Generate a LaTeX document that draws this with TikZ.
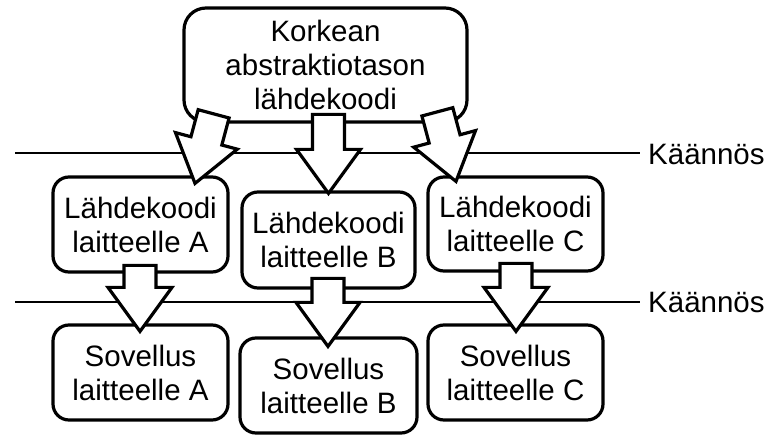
\documentclass[tikz,border=0pt]{standalone}
\usepackage{fontspec}
\setmainfont{Liberation Sans}
\usetikzlibrary{calc}
\begin{document}
\begin{tikzpicture}[x=1pt,y=1pt,
  box/.style={draw=black, line width=3.2pt, rounded corners=16pt, fill=white, align=center,
    inner sep=0pt, font=\fontsize{29.5}{34}\selectfont},
  sep/.style={draw=black, line width=1.4pt},
  lbl/.style={anchor=west, inner sep=0pt, font=\fontsize{29.5}{34}\selectfont},
  blockarrow/.style={draw=black, fill=white, line width=3.2pt, line join=miter}]
\useasboundingbox (0,0) rectangle (772,-435);
% separator lines
\coordinate (l1s) at (15,-153);
\coordinate (l1e) at (640,-153);
\coordinate (l2s) at (15,-302);
\coordinate (l2e) at (640,-302);
\draw[sep] (l1s) -- (l1e);
\draw[sep] (l2s) -- (l2e);
\node[lbl] (k1) at (648,-155) {Käännös};
\node[lbl] (k2) at (648,-302) {Käännös};
% boxes
\node[box, minimum width=283pt, minimum height=114pt, rounded corners=22pt] (top) at (325.5,-65) {Korkean\\abstraktiotason\\lähdekoodi};
\node[box, minimum width=175pt, minimum height=95pt] (a1) at (140.5,-224.5) {Lähdekoodi\\laitteelle A};
\node[box, minimum width=173pt, minimum height=96pt] (b1) at (328.5,-240) {Lähdekoodi\\laitteelle B};
\node[box, minimum width=175pt, minimum height=94pt] (c1) at (515.5,-224) {Lähdekoodi\\laitteelle C};
\node[box, minimum width=175pt, minimum height=95pt] (a2) at (140.5,-372.5) {Sovellus\\laitteelle A};
\node[box, minimum width=177pt, minimum height=95pt] (b2) at (328.5,-385.5) {Sovellus\\laitteelle B};
\node[box, minimum width=175pt, minimum height=95pt] (c2) at (515.5,-372.5) {Sovellus\\laitteelle C};
% block arrows: tip at origin, pointing down; #1 = shaft length
\newcommand{\blkarrow}[1]{(0,0) -- (-32,44) -- (-16,44) -- (-16,44+#1) -- (16,44+#1) -- (16,44) -- (32,44) -- cycle}
\draw[blockarrow, shift={($(b1.north)+(0,-3)$)}] \blkarrow{35};
\draw[blockarrow, shift={($(a1.north)+(54.5,-8)$)}, rotate=-15] \blkarrow{28};
\draw[blockarrow, shift={($(c1.north)+(-59.5,-6)$)}, rotate=15] \blkarrow{28};
\draw[blockarrow, shift={($(a2.north)+(-0.5,-8)$)}] \blkarrow{22};
\draw[blockarrow, shift={($(b2.north)+(-0.5,-10)$)}] \blkarrow{24};
\draw[blockarrow, shift={($(c2.north)+(0.5,-8)$)}] \blkarrow{24};
\end{tikzpicture}
\end{document}
